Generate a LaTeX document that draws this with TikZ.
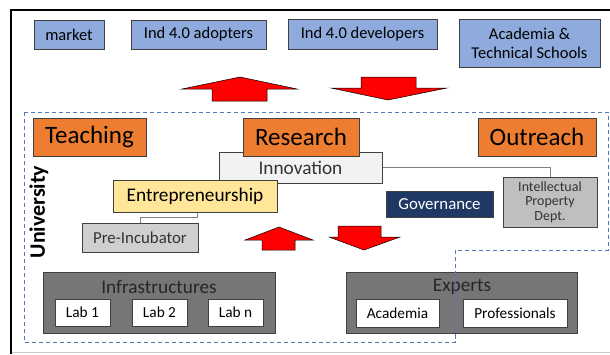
\documentclass[tikz,border=0pt]{standalone}
\usepackage{fontspec}
\setmainfont{Carlito}

\definecolor{boxblue}{RGB}{143, 170, 220}
\definecolor{boxorange}{RGB}{237, 125, 49}
\definecolor{innogray}{RGB}{242, 242, 242}
\definecolor{entyellow}{RGB}{255, 230, 153}
\definecolor{pregray}{RGB}{208, 206, 206}
\definecolor{govblue}{RGB}{32, 56, 100}
\definecolor{ipgray}{RGB}{191, 191, 191}
\definecolor{infragray}{RGB}{118, 118, 118}
\definecolor{edgegray}{RGB}{64, 64, 64}
\definecolor{textgray}{RGB}{51, 51, 51}
\definecolor{dashblue}{RGB}{84, 120, 180}

\tikzset{
    box/.style={draw=edgegray, line width=1pt, inner sep=0pt, align=center},
    actor/.style={box, fill=boxblue, font=\fontsize{16.5}{19}\selectfont},
    mission/.style={box, fill=boxorange, minimum height=38pt, font=\fontsize{25}{28}\selectfont},
    unit/.style={box, font=\fontsize{19.3}{22}\selectfont, text=textgray},
    small/.style={box, font=\fontsize{16.8}{19}\selectfont, text=textgray},
    group/.style={box, fill=infragray, minimum width=232pt, minimum height=61pt},
    item/.style={box, fill=white, minimum height=27pt, font=\fontsize{15.3}{18}\selectfont},
    link/.style={draw=gray, line width=0.7pt},
    redarrow/.style={fill=red, draw=black, line width=0.5pt, line join=miter}
}

\begin{document}
\begin{tikzpicture}[x=1pt, y=-1pt]
            \fill[white] (0, 0) rectangle (610, 354);
            \useasboundingbox (0, 0) rectangle (610, 354);

            \draw[black, line width=2.5pt] (11, 354) -- (11, 10) -- (610, 10);
            \draw[black!20, line width=1.5pt] (12, 352.5) -- (610, 352.5);

            \node[actor, minimum width=70pt, minimum height=29pt] (market) at (69, 34.5) {market};
            \node[actor, minimum width=135pt, minimum height=29pt] (adopters) at (198.5, 34.5) {Ind 4.0 adopters};
            \node[actor, minimum width=149pt, minimum height=30pt] (developers) at (362.5, 34) {Ind 4.0 developers};
            \node[actor, minimum width=141pt, minimum height=48pt] (academia) at (529.5, 43) {Academia \&\\Technical Schools};

            \filldraw[redarrow] (240, 77) -- (297, 89) -- (267, 89) -- (267, 101) -- (212, 101) -- (212, 89) -- (182, 89) -- cycle;
            \filldraw[redarrow] (388, 100) -- (447, 88) -- (416, 88) -- (416, 77) -- (361, 77) -- (361, 88) -- (331, 88) -- cycle;

            \draw[dashblue, line width=1pt, dash pattern=on 4pt off 3pt]
                (24, 112) -- (608, 112) -- (608, 250) -- (455, 250) -- (455, 342) -- (24, 342) -- cycle;

            \node[rotate=90, font=\bfseries\fontsize{22}{24}\selectfont] (university) at (39, 212) {University};

            \node[unit, fill=innogray, minimum width=163pt, minimum height=31pt] (innovation) at (300.5, 167.5) {Innovation};
            \node[mission, minimum width=113pt] (teaching) at (89.5, 137) {Teaching};
            \node[mission, minimum width=116pt] (research) at (301, 137) {Research};
            \node[mission, minimum width=118pt] (outreach) at (537, 137) {Outreach};
            \node[unit, fill=entyellow, text=black, minimum width=164pt, minimum height=32pt] (entrepreneurship) at (195, 196) {Entrepreneurship};
            \node[small, fill=pregray, minimum width=116pt, minimum height=29pt] (preincubator) at (140, 237.5) {Pre-Incubator};
            \node[small, fill=govblue, text=white, minimum width=107pt, minimum height=26pt] (governance) at (439.5, 204) {Governance};
            \node[box, fill=ipgray, text=textgray, minimum width=94pt, minimum height=50pt, font=\fontsize{14}{14.5}\selectfont] (ipdept) at (550, 202) {Intellectual\\Property\\Dept.};

            \draw[link] (innovation.east) -| (ipdept.north);
            \draw[link] ([xshift=-1pt]entrepreneurship.south -| preincubator.east) -- ++(0, 5) -| (preincubator.north);

            \filldraw[redarrow] (279, 227) -- (313, 240) -- (295, 240) -- (295, 250) -- (262, 250) -- (262, 240) -- (245, 240) -- cycle;
            \filldraw[redarrow] (364, 250) -- (400, 237) -- (381, 237) -- (381, 226) -- (338, 226) -- (338, 237) -- (329, 237) -- cycle;

            \node[group] (infrastructures) at (159, 302.5) {};
            \node[font=\fontsize{19.3}{22}\selectfont, text=black!85] (infratitle) at (159, 287) {Infrastructures};
            \node[item, minimum width=55pt] (lab1) at (82.5, 312.5) {Lab 1};
            \node[item, minimum width=55pt] (lab2) at (159.5, 312.5) {Lab 2};
            \node[item, minimum width=55pt] (labn) at (235.5, 312.5) {Lab n};

            \node[group, minimum width=231pt] (experts) at (461.5, 302.5) {};
            \node[font=\fontsize{19.3}{22}\selectfont, text=black!85] (expertstitle) at (462, 287) {Experts};
            \node[item, minimum width=83pt, minimum height=28pt] (academics) at (397.5, 313) {Academia};
            \node[item, minimum width=104pt, minimum height=28pt] (professionals) at (515, 313) {Professionals};

            \draw[dashblue, line width=1pt, dash pattern=on 4pt off 3pt] (455, 272) -- (455, 342);
        \end{tikzpicture}
\end{document}
